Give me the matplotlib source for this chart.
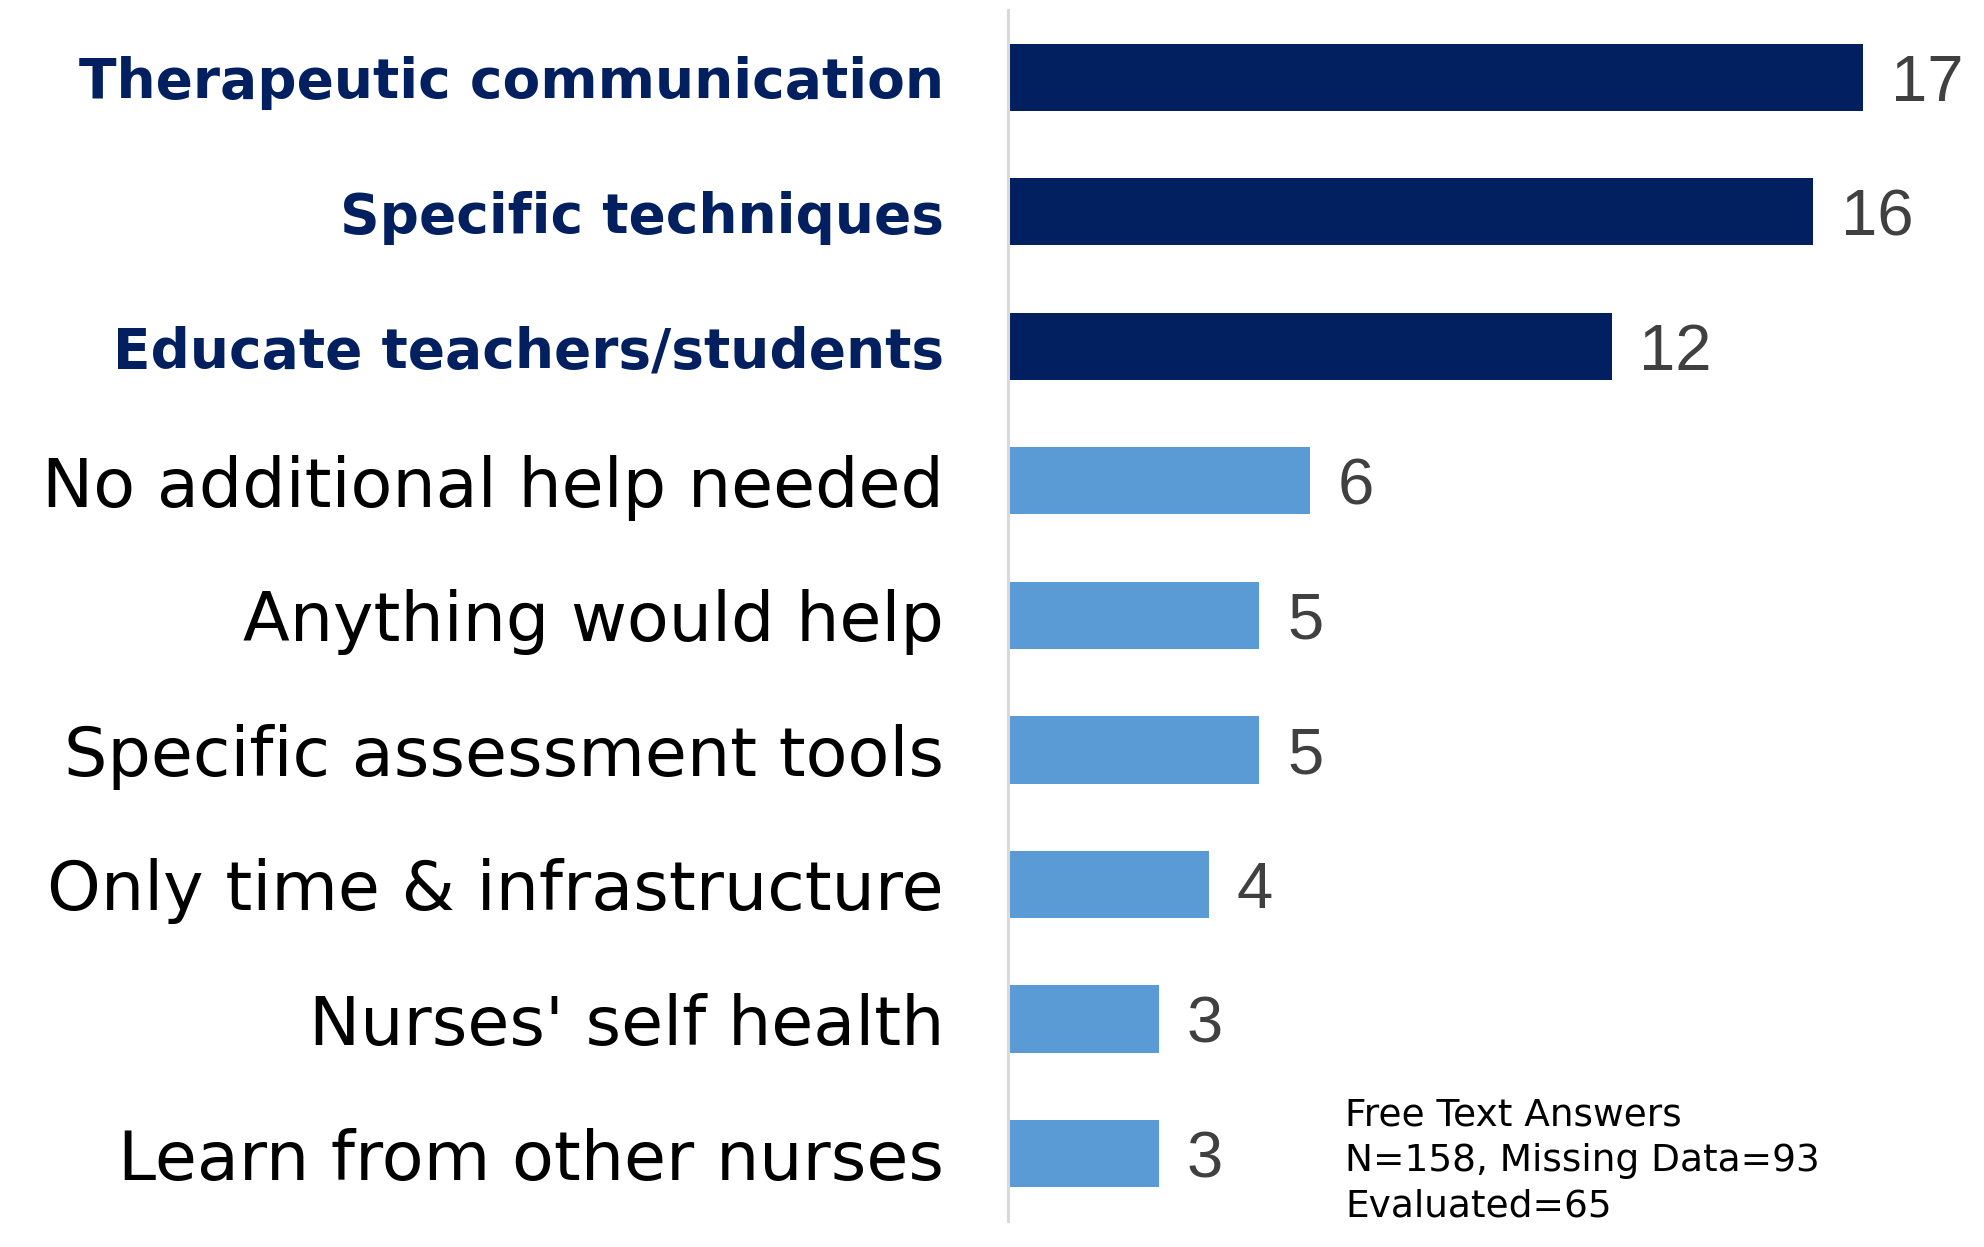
import numpy as np
import matplotlib
matplotlib.use("Agg")
import matplotlib.pyplot as plt

# data
categories = ["Therapeutic communication", "Specific techniques",
              "Educate teachers/students", "No additional help needed",
              "Anything would help", "Specific assessment tools",
              "Only time & infrastructure", "Nurses' self health",
              "Learn from other nurses"]
counts = [17, 16, 12, 6, 5, 5, 4, 3, 3]
highlight = [True, True, True, False, False, False, False, False, False]
note_lines = ["Free Text Answers", "N=158, Missing Data=93", "Evaluated=65"]

dark = "#022060"
light = "#5B9BD5"

fig = plt.figure(figsize=(19.84, 12.47), dpi=100)
ax = fig.add_axes([0.508, 0.021, 0.492, 0.971])

y = np.arange(len(categories))
colors = [dark if h else light for h in highlight]
ax.barh(y, counts, height=0.5, color=colors)

for yi, v in zip(y, counts):
    ax.annotate(str(v), (v, yi), xytext=(20, 0), textcoords="offset points",
                ha="left", va="center_baseline", fontsize=47, color="#404040",
                family="Liberation Sans")

ax.set_xlim(0, 19.4)
ax.set_ylim(8.5, -0.5)
ax.set_xticks([])
ax.set_yticks(y)
ax.set_yticklabels(categories)
ax.tick_params(axis="y", length=0, pad=46)
for lab, h in zip(ax.get_yticklabels(), highlight):
    lab.set_family("DejaVu Sans")
    if h:
        lab.set_fontsize(39.6)
        lab.set_fontweight("bold")
        lab.set_color(dark)
    else:
        lab.set_fontsize(49.2)
        lab.set_color("black")

for s in ["top", "right", "bottom"]:
    ax.spines[s].set_visible(False)
ax.spines["left"].set_color("#d9d9d9")
ax.spines["left"].set_linewidth(2.2)

fig.text(0.678, 0.069, "\n".join(note_lines), ha="left", va="center",
         fontsize=27, family="DejaVu Sans", linespacing=1.33)

fig.savefig("out.png", dpi=100)
